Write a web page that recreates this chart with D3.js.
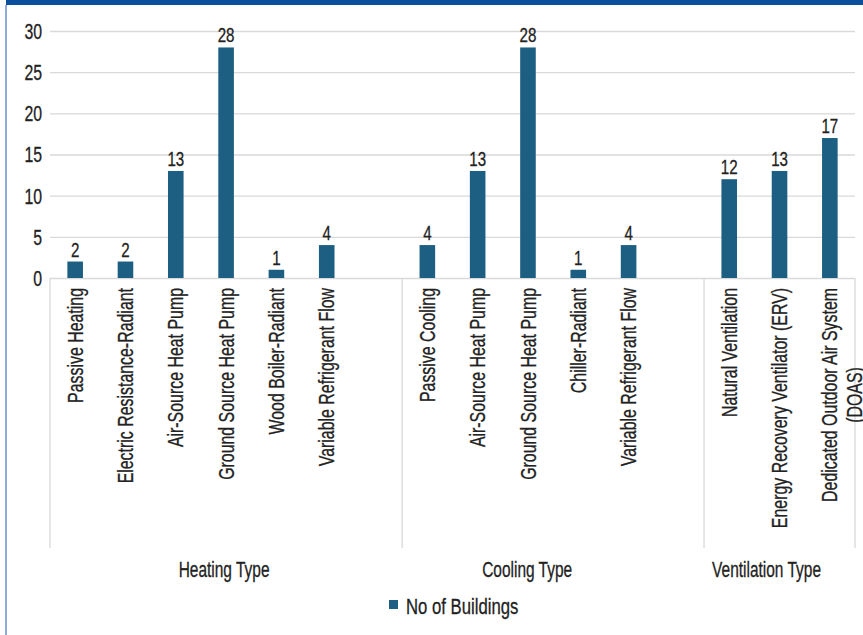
<!DOCTYPE html>
<html>
<head>
<meta charset="utf-8">
<script src="https://cdn.jsdelivr.net/npm/d3@7"></script>
<style>
  body { margin: 0; background: #fff; }
  text { font-family: "Liberation Sans", Arial, sans-serif; fill: #222; stroke: #222; stroke-width: 0.3px; }
</style>
</head>
<body>
<script>

  const width = 863,
        height = 635,
        barColor = '#1c5f82',
        gridColor = '#d9d9d9',
        squeeze = 0.72   // the reference uses a condensed face; squash a regular one

  // data
  const groupNames = ['Heating Type', 'Cooling Type', 'Ventilation Type']
  const heatingTypes = ['Passive Heating', 'Electric Resistance-Radiant', 'Air-Source Heat Pump',
                        'Ground Source Heat Pump', 'Wood Boiler-Radiant', 'Variable Refrigerant Flow']
  const heatingCounts = [2, 2, 13, 28, 1, 4]
  const coolingTypes = ['Passive Cooling', 'Air-Source Heat Pump', 'Ground Source Heat Pump',
                        'Chiller-Radiant', 'Variable Refrigerant Flow']
  const coolingCounts = [4, 13, 28, 1, 4]
  const ventilationTypes = ['Natural Ventilation', 'Energy Recovery Ventilator (ERV)',
                            'Dedicated Outdoor Air System\n(DOAS)']
  const ventilationCounts = [12, 13, 17]
  const blankSlots = [1, 1, 0]   // empty category slots closing each group
  const yTicks = [0, 5, 10, 15, 20, 25, 30]
  const seriesName = 'No of Buildings'

  const margin = {left: 50, top: 31, right: 8}
  const baseY = 278
  const labelShift = [-2, -26, -13]   // group label nudges, as Excel laid them out

  // build the slot list (items + blank spacers)
  const groups = [
    {name: groupNames[0], types: heatingTypes, counts: heatingCounts},
    {name: groupNames[1], types: coolingTypes, counts: coolingCounts},
    {name: groupNames[2], types: ventilationTypes, counts: ventilationCounts}
  ]
  const slots = []
  groups.forEach((g, gi) => {
    g.first = slots.length
    g.types.forEach((t, i) => slots.push({key: `${gi}-${i}`, name: t, value: g.counts[i], group: gi}))
    for (let b = 0; b < blankSlots[gi]; b++) slots.push({key: `${gi}-blank${b}`, name: null, value: null, group: gi})
    g.last = slots.length - 1
  })

  const xScale = d3.scaleBand()
    .domain(slots.map(d => d.key))
    .range([margin.left, width - margin.right])
    .padding(0)

  const yScale = d3.scaleLinear()
    .domain([0, 30])
    .range([baseY, margin.top])

  const svg = d3.select('body')
    .append('svg')
      .attr('width', width)
      .attr('height', height)

  // frame decorations
  svg.append('rect')
    .attr('x', 6).attr('y', 0)
    .attr('width', width - 6).attr('height', 5)
    .attr('fill', '#0b4f9c')
  svg.append('rect')
    .attr('x', 5).attr('y', 5)
    .attr('width', 2).attr('height', height - 5)
    .attr('fill', '#8ea9db')

  // gridlines
  svg.append('g')
    .selectAll('line')
    .data(yTicks)
    .enter()
    .append('line')
      .attr('x1', xScale.range()[0])
      .attr('x2', xScale.range()[1])
      .attr('y1', d => yScale(d) + 0.5)
      .attr('y2', d => yScale(d) + 0.5)
      .attr('stroke', gridColor)
      .attr('stroke-width', 1.3)

  // y tick labels
  svg.append('g')
    .selectAll('text')
    .data(yTicks)
    .enter()
    .append('text')
      .attr('transform', d => `translate(42, ${yScale(d)}) scale(${squeeze}, 1)`)
      .attr('dy', '0.36em')
      .style('text-anchor', 'end')
      .style('font-size', '22px')
      .text(d => d)

  // group separators
  const sepX = [xScale(slots[0].key)].concat(groups.map(g => xScale(slots[g.last].key) + xScale.bandwidth()))
  svg.append('g')
    .selectAll('line')
    .data(sepX)
    .enter()
    .append('line')
      .attr('x1', d => d)
      .attr('x2', d => d)
      .attr('y1', baseY)
      .attr('y2', 548)
      .attr('stroke', gridColor)
      .attr('stroke-width', 1.3)

  const items = slots.filter(d => d.name !== null)
  const barW = xScale.bandwidth() * 0.31
  const cx = d => xScale(d.key) + xScale.bandwidth() / 2

  // bars
  svg.append('g')
    .selectAll('rect')
    .data(items)
    .enter()
    .append('rect')
      .attr('x', d => cx(d) - barW / 2)
      .attr('y', d => yScale(d.value))
      .attr('width', barW)
      .attr('height', d => baseY - yScale(d.value))
      .attr('fill', barColor)

  // value labels
  svg.append('g')
    .selectAll('text')
    .data(items)
    .enter()
    .append('text')
      .attr('transform', d => `translate(${cx(d)}, ${yScale(d.value) - 5}) scale(${squeeze}, 1)`)
      .style('text-anchor', 'middle')
      .style('font-size', '21px')
      .text(d => d.value)

  // rotated category labels
  const lineH = 25
  svg.append('g')
    .selectAll('text')
    .data(items)
    .enter()
    .append('text')
      .attr('transform', d => `translate(${cx(d)}, 288) rotate(-90) scale(${squeeze + 0.02}, 1)`)
      .style('font-size', '21.5px')
      .each(function(d) {
        const node = d3.select(this)
        const lines = d.name.split('\n')
        const spans = lines.map(l => node.append('tspan')
          .attr('x', 0)
          .attr('y', 0)
          .attr('dy', '0.35em')
          .text(l))
        if (lines.length === 1) {
          node.style('text-anchor', 'end')
        } else {
          const L = d3.max(spans, s => s.node().getComputedTextLength())
          node.style('text-anchor', 'middle')
          spans.forEach((s, i) => s.attr('x', -L / 2).attr('y', i * lineH))
        }
      })

  // group labels
  svg.append('g')
    .selectAll('text')
    .data(groups)
    .enter()
    .append('text')
      .attr('transform', (g, i) => {
        const x = (xScale(slots[g.first].key) + xScale(slots[g.last].key) + xScale.bandwidth()) / 2 + labelShift[i]
        return `translate(${x}, 577) scale(${squeeze}, 1)`
      })
      .style('text-anchor', 'middle')
      .style('font-size', '21.5px')
      .text(g => g.name)

  // legend
  const legend = svg.append('g')
    .attr('transform', `translate(389, 600)`)
  legend.append('rect')
    .attr('width', 9)
    .attr('height', 9)
    .attr('fill', barColor)
  legend.append('text')
    .attr('transform', `translate(17, 14) scale(${squeeze + 0.04}, 1)`)
    .style('font-size', '22px')
    .text(seriesName)

</script>
</body>
</html>
